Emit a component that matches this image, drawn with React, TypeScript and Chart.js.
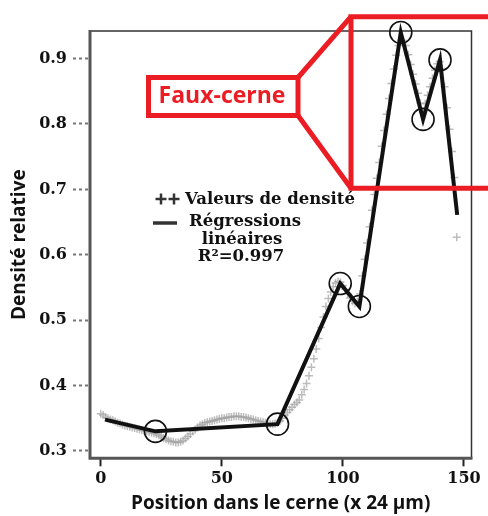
import React, { useEffect, useRef } from "react";
import { Chart, registerables } from "chart.js";

Chart.register(...registerables);

// Positions (x 24 µm) of the density measurements
const positions = [
  0, 1, 2, 3, 4, 5, 6, 7, 8, 9,
  10, 11, 12, 13, 14, 15, 16, 17, 18, 19,
  20, 21, 22, 23, 24, 25, 26, 27, 28, 29,
  30, 31, 32, 33, 34, 35, 36, 37, 38, 39,
  40, 41, 42, 43, 44, 45, 46, 47, 48, 49,
  50, 51, 52, 53, 54, 55, 56, 57, 58, 59,
  60, 61, 62, 63, 64, 65, 66, 67, 68, 69,
  70, 71, 72, 73, 74, 75, 76, 77, 78, 79,
  80, 81, 82, 83, 84, 85, 86, 87, 88, 89,
  90, 91, 92, 93, 94, 95, 96, 97, 98, 99,
  100, 101, 102, 103, 104, 105, 106, 107, 108, 109,
  110, 111, 112, 113, 114, 115, 116, 117, 118, 119,
  120, 121, 122, 123, 124, 125, 126, 127, 128, 129,
  130, 131, 132, 133, 134, 135, 136, 137, 138, 139,
  140, 141, 142, 143, 144, 145, 146, 147,
];

// Relative density values (grey crosses)
const densityValues = [
  0.357, 0.355, 0.352, 0.350, 0.348, 0.347, 0.345, 0.343, 0.342, 0.340,
  0.339, 0.338, 0.337, 0.336, 0.335, 0.334, 0.333, 0.332, 0.331, 0.330,
  0.329, 0.328, 0.327, 0.326, 0.324, 0.322, 0.320, 0.318, 0.316, 0.315,
  0.314, 0.313, 0.313, 0.314, 0.316, 0.319, 0.322, 0.326, 0.330, 0.333,
  0.336, 0.339, 0.341, 0.343, 0.344, 0.345, 0.346, 0.347, 0.348, 0.349,
  0.350, 0.350, 0.351, 0.352, 0.352, 0.353, 0.353, 0.353, 0.352, 0.352,
  0.351, 0.350, 0.349, 0.348, 0.347, 0.346, 0.345, 0.344, 0.343, 0.342,
  0.341, 0.341, 0.342, 0.343, 0.346, 0.350, 0.355, 0.359, 0.363, 0.367,
  0.371, 0.374, 0.378, 0.386, 0.394, 0.403, 0.415, 0.428, 0.441, 0.456,
  0.472, 0.489, 0.505, 0.521, 0.533, 0.543, 0.551, 0.557, 0.559, 0.558,
  0.553, 0.547, 0.540, 0.534, 0.529, 0.526, 0.528, 0.540, 0.568, 0.593,
  0.618, 0.643, 0.668, 0.692, 0.717, 0.741, 0.766, 0.790, 0.815, 0.839,
  0.862, 0.884, 0.905, 0.920, 0.928, 0.928, 0.920, 0.906, 0.891, 0.876,
  0.861, 0.847, 0.832, 0.818, 0.831, 0.844, 0.857, 0.870, 0.882, 0.892,
  0.895, 0.885, 0.857, 0.825, 0.792, 0.758, 0.718, 0.627,
];

// Piecewise linear regressions (vertices)
const regressionX = [1.8, 22.6, 73.0, 98.9, 106.8, 123.9, 133.1, 140.1, 147.2];
const regressionY = [0.348, 0.330, 0.341, 0.556, 0.521, 0.940, 0.807, 0.898, 0.661];
const breakpointMarked = [false, true, true, true, true, true, true, true, false];

const xTickValues = [0, 50, 100, 150];
const yTickValues = [0.3, 0.4, 0.5, 0.6, 0.7, 0.8, 0.9];

const xTitle = "Position dans le cerne (x 24 µm)";
const yTitle = "Densité relative";
const legendDensity = "Valeurs de densité";
const legendRegression = ["Régressions", "linéaires", "R²=0.997"];
const calloutLabel = "Faux-cerne";

const RED = "#ec1c24";
const SERIF = "'DejaVu Serif', serif";
const SANS = "'Open Sans', sans-serif";

const overlayPlugin = {
  id: "overlay",
  beforeDatasetsDraw(chart: any) {
    const { ctx, chartArea } = chart;
    const { left, right, top, bottom } = chartArea;
    ctx.save();
    ctx.strokeStyle = "#333";
    ctx.lineWidth = 1.5;
    ctx.beginPath();
    ctx.moveTo(left, top);
    ctx.lineTo(right, top);
    ctx.lineTo(right, bottom);
    ctx.stroke();
    ctx.strokeStyle = "#555";
    ctx.lineWidth = 3;
    ctx.beginPath();
    ctx.moveTo(left, top - 1);
    ctx.lineTo(left, bottom);
    ctx.lineTo(right + 1, bottom);
    ctx.stroke();
    ctx.restore();
  },
  afterDraw(chart: any) {
    const { ctx } = chart;
    ctx.save();
    // legend
    const cross = (cx: number, cy: number, r: number) => {
      ctx.beginPath();
      ctx.moveTo(cx - r, cy);
      ctx.lineTo(cx + r, cy);
      ctx.moveTo(cx, cy - r);
      ctx.lineTo(cx, cy + r);
      ctx.stroke();
    };
    ctx.strokeStyle = "#333";
    ctx.lineWidth = 2.5;
    cross(161, 199, 5.5);
    cross(174, 199, 5.5);
    ctx.lineWidth = 3.5;
    ctx.beginPath();
    ctx.moveTo(153, 223);
    ctx.lineTo(177, 223);
    ctx.stroke();

    ctx.fillStyle = "#111";
    ctx.font = `bold 16.5px ${SERIF}`;
    ctx.textBaseline = "middle";
    ctx.textAlign = "left";
    ctx.fillText(legendDensity, 185, 200);
    ctx.textAlign = "center";
    ctx.fillText(legendRegression[0], 245, 222);
    ctx.fillText(legendRegression[1], 242, 240);
    ctx.fillText(legendRegression[2], 241, 257);

    // callout
    ctx.strokeStyle = RED;
    ctx.lineWidth = 5;
    ctx.lineJoin = "miter";
    ctx.strokeRect(148.5, 77.5, 149.5, 38);
    ctx.beginPath();
    ctx.moveTo(500, 16.7);
    ctx.lineTo(351, 16.7);
    ctx.lineTo(351, 188.3);
    ctx.lineTo(500, 188.3);
    ctx.stroke();
    ctx.beginPath();
    ctx.moveTo(298, 77.5);
    ctx.lineTo(351, 16.7);
    ctx.moveTo(298, 115.5);
    ctx.lineTo(351, 188.3);
    ctx.stroke();
    ctx.fillStyle = RED;
    ctx.font = `bold 23px ${SANS}`;
    ctx.textAlign = "center";
    ctx.textBaseline = "middle";
    ctx.fillText(calloutLabel, 222, 96);
    ctx.restore();
  },
};

export default function App() {
  const canvasRef = useRef<HTMLCanvasElement | null>(null);

  useEffect(() => {
    const canvas = canvasRef.current;
    if (!canvas) return;
    const densityData = positions.map((x, i) => ({ x, y: densityValues[i] }));
    const regressionData = regressionX.map((x, i) => ({ x, y: regressionY[i] }));
    const chart = new Chart(canvas, {
      type: "scatter",
      data: {
        datasets: [
          {
            label: "Régressions linéaires",
            data: regressionData,
            showLine: true,
            borderColor: "#111",
            borderWidth: 4,
            pointRadius: breakpointMarked.map((m) => (m ? 11 : 0)),
            pointStyle: "circle",
            pointBorderColor: "#111",
            pointBackgroundColor: "rgba(0,0,0,0)",
            pointBorderWidth: 1.6,
            clip: false,
          } as any,
          {
            label: "Valeurs de densité",
            data: densityData,
            showLine: false,
            pointStyle: "cross",
            pointRadius: 4,
            pointBorderWidth: 1.5,
            pointBorderColor: "rgba(160,160,160,0.7)",
            pointBackgroundColor: "rgba(160,160,160,0.7)",
          } as any,
        ],
      },
      options: {
        animation: false,
        responsive: false,
        devicePixelRatio: 1,
        layout: { padding: { top: 31, right: 16.5, left: 0, bottom: 0 } },
        plugins: { legend: { display: false }, tooltip: { enabled: false } },
        scales: {
          x: {
            type: "linear",
            min: -4.42,
            max: 153.1,
            afterBuildTicks: (s: any) => {
              s.ticks = xTickValues.map((value) => ({ value }));
            },
            afterFit: (s: any) => {
              s.height = 57.7;
            },
            border: { display: false },
            grid: {
              drawOnChartArea: false,
              drawTicks: true,
              tickLength: 8,
              tickColor: "#222",
              tickWidth: 2,
            },
            ticks: {
              autoSkip: false,
              maxRotation: 0,
              padding: 3,
              color: "#111",
              font: { family: SERIF, weight: "bold", size: 16 },
              callback: (v: any) => String(v),
            },
            title: {
              display: true,
              text: xTitle,
              color: "#111",
              font: { family: SANS, weight: "bold", size: 19 },
              padding: { top: 0, bottom: 1 },
            },
          },
          y: {
            type: "linear",
            min: 0.2888,
            max: 0.9422,
            afterBuildTicks: (s: any) => {
              s.ticks = yTickValues.map((value) => ({ value }));
            },
            afterFit: (s: any) => {
              s.width = 90;
            },
            border: { display: false },
            grid: {
              drawOnChartArea: false,
              drawTicks: true,
              tickLength: 17,
              tickColor: "#777",
              tickWidth: 2,
              tickBorderDash: [3, 3],
            },
            ticks: {
              autoSkip: false,
              padding: 6,
              color: "#111",
              font: { family: SERIF, weight: "bold", size: 16 },
              callback: (v: any) => Number(v).toFixed(1),
            },
            title: {
              display: true,
              text: yTitle,
              color: "#111",
              font: { family: SANS, weight: "bold", size: 19 },
              padding: { top: 8, bottom: 0 },
            },
          },
        },
      } as any,
      plugins: [overlayPlugin],
    });
    return () => chart.destroy();
  }, []);

  return (
    <div style={{ position: "absolute", left: 0, top: 0, width: 488, height: 516, background: "#fff" }}>
      <canvas ref={canvasRef} width={488} height={516} style={{ width: 488, height: 516, display: "block" }} />
    </div>
  );
}
